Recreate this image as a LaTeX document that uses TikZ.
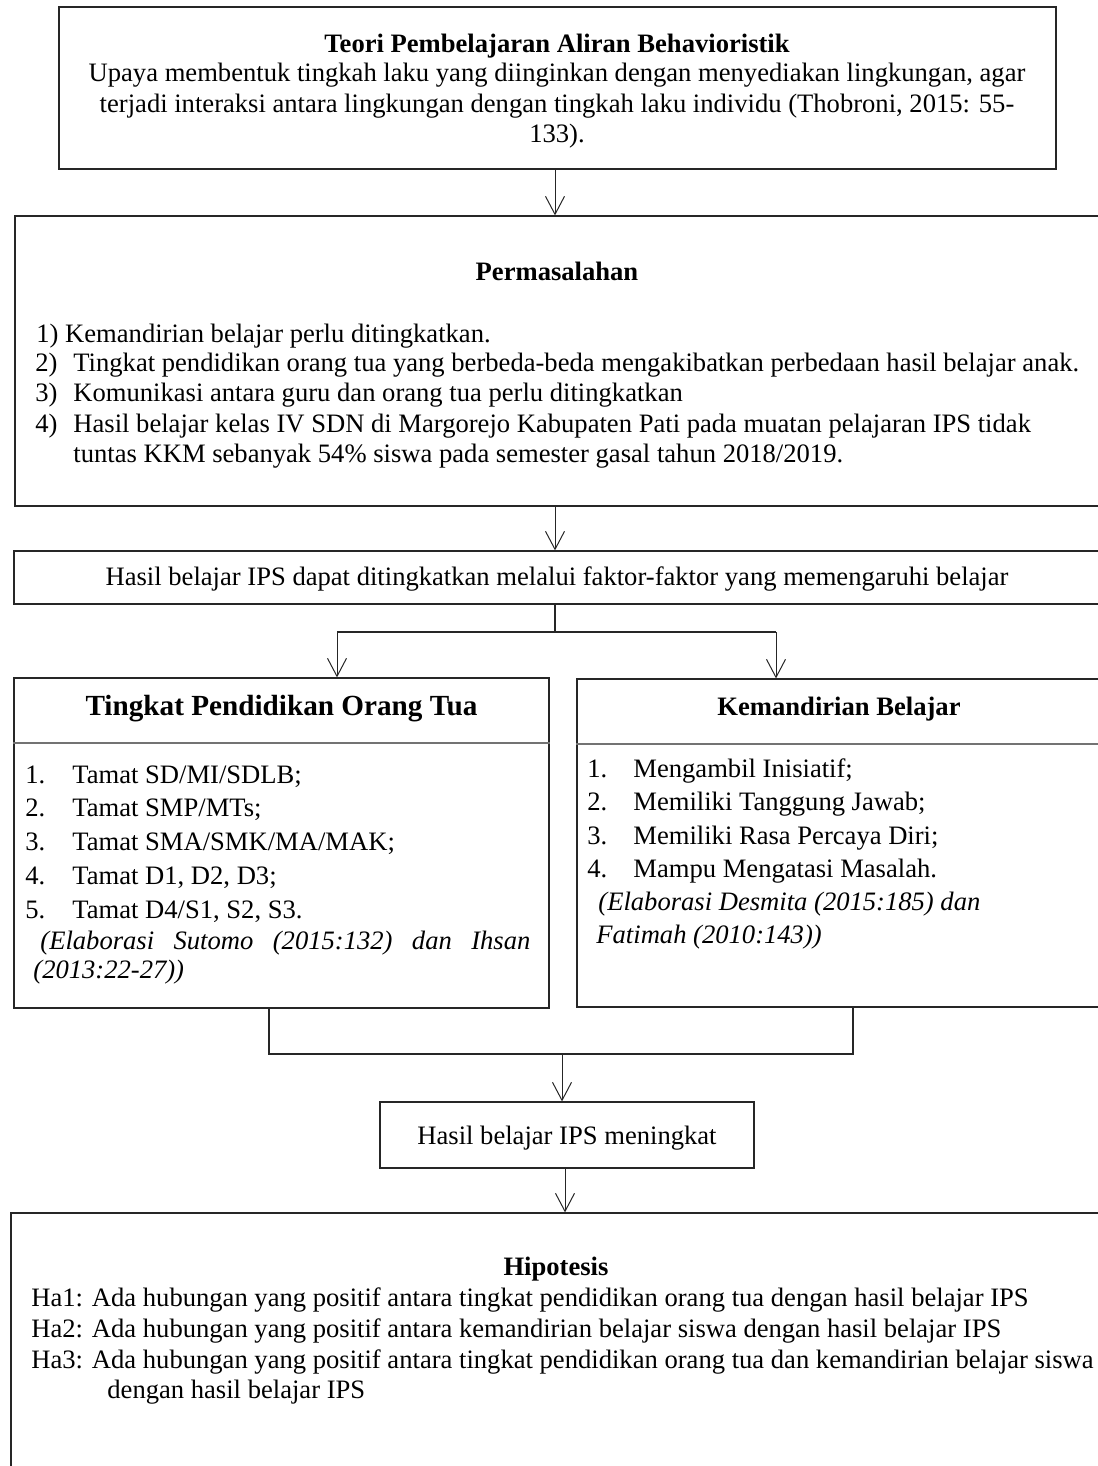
\documentclass[tikz,border=0pt]{standalone}
\usepackage{fontspec}
\setmainfont{Liberation Serif}
\usetikzlibrary{arrows.meta,fit,calc}
\newcommand{\fb}{\fontsize{13.3pt}{15pt}\selectfont}
\newcommand{\fc}{\fontsize{14.6pt}{17pt}\selectfont}
\tikzset{
  box/.style={draw=black!85, line width=0.6pt, inner sep=0pt, fit={#1}},
  arr/.style={-{Straight Barb[length=9pt,width=9.5pt,line width=0.5pt]}, line width=0.5pt, draw=black!85},
  conn/.style={line width=0.6pt, draw=black!85},
  divline/.style={line width=0.6pt, draw=black!55},
  tb/.style={inner sep=0pt, font=\fb},
  tc/.style={inner sep=0pt, font=\fc},
}
\begin{document}
\begin{tikzpicture}[x=0.5pt,y=-0.5pt]
\useasboundingbox (0,0) rectangle (1097,1466);
% boxes
\node[box={(59,7) (1056,169)}] (b1) {};
\node[box={(15,216) (1102,506)}] (b2) {};
\node[box={(14,551) (1102,604)}] (b3) {};
\node[box={(14,678) (549,1008)}] (L) {};
\node[box={(577,679) (1102,1007)}] (R) {};
\node[box={(380,1102) (754,1168)}] (H) {};
\node[box={(11,1213) (1102,1470)}] (P) {};
% dividers
\draw[divline] (L.west |- 0,743) coordinate (dl) -- (L.east |- dl);
\draw[divline] (R.west |- 0,744) coordinate (dr) -- (R.east |- dr);
% box 1 text
\node[tb, anchor=base, font=\fb\bfseries] (t1) at (557,53) {Teori Pembelajaran Aliran Behavioristik};
\node[tb, anchor=base] (t1a) at (557,82) {Upaya membentuk tingkah laku yang diinginkan dengan menyediakan lingkungan, agar};
\node[tb, anchor=base] (t1b) at (557,113) {terjadi interaksi antara lingkungan dengan tingkah laku individu (Thobroni, 2015: 55-};
\node[tb, anchor=base] (t1c) at (557,143) {133).};
% box 2 text
\node[tb, anchor=base, font=\fb\bfseries] (t2) at (557,280) {Permasalahan};
\node[tb, anchor=base west] (p1) at (36,342) {1) Kemandirian belajar perlu ditingkatkan.};
\node[tb, anchor=base west] (p2n) at (35,371) {2)};
\node[tb, anchor=base west] (p2) at (73,371) {Tingkat pendidikan orang tua yang berbeda-beda mengakibatkan perbedaan hasil belajar anak.};
\node[tb, anchor=base west] (p3n) at (35,401) {3)};
\node[tb, anchor=base west] (p3) at (73,401) {Komunikasi antara guru dan orang tua perlu ditingkatkan};
\node[tb, anchor=base west] (p4n) at (35,432) {4)};
\node[tb, anchor=base west] (p4) at (73,432) {Hasil belajar kelas IV SDN di Margorejo Kabupaten Pati pada muatan pelajaran IPS tidak};
\node[tb, anchor=base west] (p4b) at (73,462) {tuntas KKM sebanyak 54\% siswa pada semester gasal tahun 2018/2019.};
% box 3 text
\node[tb, anchor=base] (t3) at (557,585) {Hasil belajar IPS dapat ditingkatkan melalui faktor-faktor yang memengaruhi belajar};
% left box
\node[tc, anchor=base, font=\fc\bfseries] (tl) at (281.5,715) {Tingkat Pendidikan Orang Tua};
\node[tb, anchor=base west] (ln1) at (25,783) {1.};
\node[tb, anchor=base west] (lt1) at (72,783) {Tamat SD/MI/SDLB;};
\node[tb, anchor=base west] (ln2) at (25,816) {2.};
\node[tb, anchor=base west] (lt2) at (72,816) {Tamat SMP/MTs;};
\node[tb, anchor=base west] (ln3) at (25,850) {3.};
\node[tb, anchor=base west] (lt3) at (72,850) {Tamat SMA/SMK/MA/MAK;};
\node[tb, anchor=base west] (ln4) at (25,884) {4.};
\node[tb, anchor=base west] (lt4) at (72,884) {Tamat D1, D2, D3;};
\node[tb, anchor=base west] (ln5) at (25,918) {5.};
\node[tb, anchor=base west] (lt5) at (72,918) {Tamat D4/S1, S2, S3.};
\node[tb, anchor=base west, font=\fb\itshape] (lc1) at (40,949) {\makebox[245pt][s]{(Elaborasi Sutomo (2015:132) dan Ihsan}};
\node[tb, anchor=base west, font=\fb\itshape] (lc2) at (33,978) {(2013:22-27))};
% right box
\node[tb, anchor=base, font=\fb\bfseries] (tr) at (839,715) {Kemandirian Belajar};
\node[tb, anchor=base west] (rn1) at (587,777) {1.};
\node[tb, anchor=base west] (rt1) at (633,777) {Mengambil Inisiatif;};
\node[tb, anchor=base west] (rn2) at (587,810) {2.};
\node[tb, anchor=base west] (rt2) at (633,810) {Memiliki Tanggung Jawab;};
\node[tb, anchor=base west] (rn3) at (587,844) {3.};
\node[tb, anchor=base west] (rt3) at (633,844) {Memiliki Rasa Percaya Diri;};
\node[tb, anchor=base west] (rn4) at (587,877) {4.};
\node[tb, anchor=base west] (rt4) at (633,877) {Mampu Mengatasi Masalah.};
\node[tb, anchor=base west, font=\fb\itshape] (rc1) at (598,910) {(Elaborasi Desmita (2015:185) dan};
\node[tb, anchor=base west, font=\fb\itshape] (rc2) at (596,943) {Fatimah (2010:143))};
% H box
\node[tb, anchor=base] (th) at (567,1144) {Hasil belajar IPS meningkat};
% hipotesis
\node[tb, anchor=base, font=\fb\bfseries] (tp) at (556,1275) {Hipotesis};
\node[tb, anchor=base west] (h1) at (31,1306) {Ha1: Ada hubungan yang positif antara tingkat pendidikan orang tua dengan hasil belajar IPS};
\node[tb, anchor=base west] (h2) at (31,1337) {Ha2: Ada hubungan yang positif antara kemandirian belajar siswa dengan hasil belajar IPS};
\node[tb, anchor=base west] (h3) at (31,1368) {Ha3: Ada hubungan yang positif antara tingkat pendidikan orang tua dan kemandirian belajar siswa};
\node[tb, anchor=base west] (h3b) at (107,1398) {dengan hasil belajar IPS};
% connectors
\coordinate (a1) at (555,0);
\draw[arr] (b1.south -| a1) -- (b2.north -| a1);
\draw[arr] (b2.south -| a1) -- (b3.north -| a1);
\coordinate (j1) at (555,632);
\coordinate (jl) at (337,632);
\coordinate (jr) at (776,632);
\draw[conn] (b3.south -| j1) -- (j1);
\draw[conn] (jl) -- (jr);
\draw[arr] (jl) -- (jl |- L.north);
\draw[arr] (jr) -- (jr |- R.north);
\coordinate (ml) at (269,1054);
\coordinate (mr) at (853,1054);
\coordinate (mj) at (562,1054);
\draw[conn] (ml |- L.south) -- (ml) -- (mr) -- (mr |- R.south);
\draw[arr] (mj) -- (mj |- H.north);
\coordinate (hj) at (565,0);
\draw[arr] (H.south -| hj) -- (P.north -| hj);
\end{tikzpicture}
\end{document}
